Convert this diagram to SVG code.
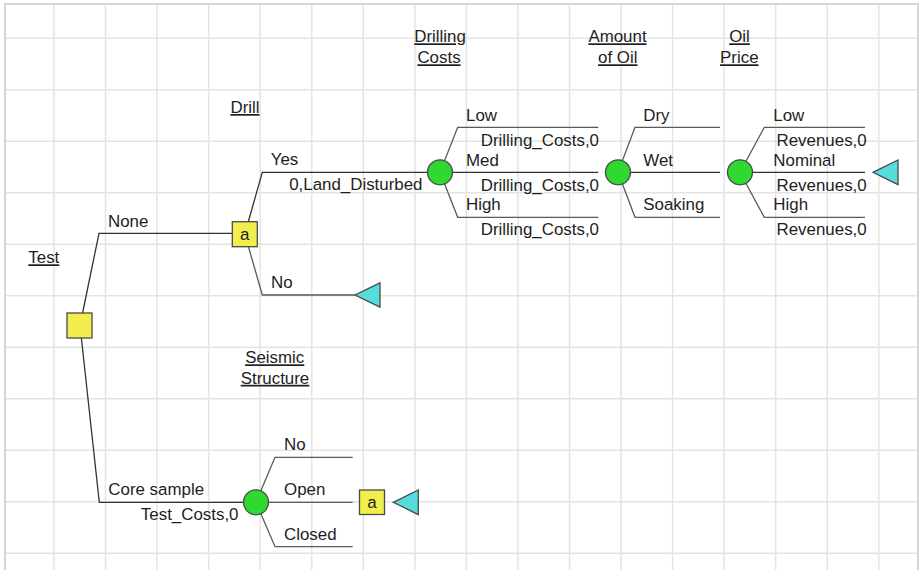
<svg xmlns="http://www.w3.org/2000/svg" width="919" height="570" viewBox="0 0 919 570">
  <style>
    .grid line { stroke: #e4e4e4; stroke-width: 1.5; }
    .frame { fill: none; stroke: #d6d6d6; stroke-width: 2; }
    .conn line, .conn polyline { fill: none; stroke: #333; stroke-width: 1.3; }
    .conn .leaf { stroke: #5a5a5a; }
    text { font-family: "Liberation Sans", Arial, sans-serif; font-size: 16.9px; fill: #1e1e1e; }
    .hdr { text-decoration: underline; text-anchor: middle; }
    .val { text-anchor: end; }
    .dec { fill: #f2ee4e; stroke: #4a4a4a; stroke-width: 1.3; }
    .chance { fill: #2fd92f; stroke: #4a4a4a; stroke-width: 1.3; }
    .end { fill: #55dcdc; stroke: #4a4a4a; stroke-width: 1.3; }
    .mark { text-anchor: middle; }
  </style>

  <rect width="919" height="570" fill="#ffffff"/>

  <!-- background grid -->
  <g class="grid">
    <line x1="54" y1="4" x2="54" y2="570"/>
    <line x1="105.5" y1="4" x2="105.5" y2="570"/>
    <line x1="157" y1="4" x2="157" y2="570"/>
    <line x1="208.7" y1="4" x2="208.7" y2="570"/>
    <line x1="260.2" y1="4" x2="260.2" y2="570"/>
    <line x1="311.8" y1="4" x2="311.8" y2="570"/>
    <line x1="363.3" y1="4" x2="363.3" y2="570"/>
    <line x1="414.9" y1="4" x2="414.9" y2="570"/>
    <line x1="466.4" y1="4" x2="466.4" y2="570"/>
    <line x1="518" y1="4" x2="518" y2="570"/>
    <line x1="569.5" y1="4" x2="569.5" y2="570"/>
    <line x1="621.1" y1="4" x2="621.1" y2="570"/>
    <line x1="672.6" y1="4" x2="672.6" y2="570"/>
    <line x1="724.2" y1="4" x2="724.2" y2="570"/>
    <line x1="775.7" y1="4" x2="775.7" y2="570"/>
    <line x1="827.3" y1="4" x2="827.3" y2="570"/>
    <line x1="878.8" y1="4" x2="878.8" y2="570"/>
    <line x1="5" y1="38.3" x2="918" y2="38.3"/>
    <line x1="5" y1="89.8" x2="918" y2="89.8"/>
    <line x1="5" y1="141.3" x2="918" y2="141.3"/>
    <line x1="5" y1="192.8" x2="918" y2="192.8"/>
    <line x1="5" y1="244.3" x2="918" y2="244.3"/>
    <line x1="5" y1="295.8" x2="918" y2="295.8"/>
    <line x1="5" y1="347.3" x2="918" y2="347.3"/>
    <line x1="5" y1="398.8" x2="918" y2="398.8"/>
    <line x1="5" y1="450.3" x2="918" y2="450.3"/>
    <line x1="5" y1="501.8" x2="918" y2="501.8"/>
    <line x1="5" y1="553.3" x2="918" y2="553.3"/>
  </g>
  <rect class="frame" x="5" y="4" width="913" height="580"/>

  <!-- branches -->
  <g id="connectors" class="conn">
    <!-- Test -->
    <polyline points="80,325.5 99,233.3 232.5,233.3"/>
    <polyline points="80,325.5 99.3,502.3 243.5,502.3"/>
    <!-- Drill -->
    <polyline points="244.8,234 262.3,172.3 427.5,172.3"/>
    <polyline class="leaf" points="244.8,234 262.3,295 355,295"/>
    <!-- Drilling Costs -->
    <polyline class="leaf" points="440,172.3 457.7,127.3 598.3,127.3"/>
    <line x1="440" y1="172.3" x2="598.3" y2="172.3"/>
    <polyline class="leaf" points="440,172.3 457.7,217.3 598.3,217.3"/>
    <!-- Amount of Oil -->
    <polyline class="leaf" points="618,172.3 635,127.3 720,127.3"/>
    <line x1="618" y1="172.3" x2="720" y2="172.3"/>
    <polyline class="leaf" points="618,172.3 635,217.3 720,217.3"/>
    <!-- Oil Price -->
    <polyline class="leaf" points="740,172.3 764.3,127.3 865,127.3"/>
    <line x1="740" y1="172.3" x2="865" y2="172.3"/>
    <polyline class="leaf" points="740,172.3 764.3,217.3 865,217.3"/>
    <!-- Seismic Structure -->
    <polyline class="leaf" points="256,502.3 275,457.3 352.7,457.3"/>
    <line class="leaf" x1="256" y1="502.3" x2="352.7" y2="502.3"/>
    <polyline class="leaf" points="256,502.3 275,546.7 352.7,546.7"/>

    <!-- branch names and values -->
    <text x="108" y="226.5">None</text>
    <text x="108.3" y="495">Core sample</text>
    <text class="val" x="238.5" y="520.3">Test_Costs,0</text>

    <text x="270.7" y="165.3">Yes</text>
    <text class="val" x="422.5" y="190.3">0,Land_Disturbed</text>
    <text x="271" y="288">No</text>

    <text x="466" y="120.5">Low</text>
    <text class="val" x="599" y="146">Drilling_Costs,0</text>
    <text x="466" y="165.8">Med</text>
    <text class="val" x="599" y="190.5">Drilling_Costs,0</text>
    <text x="466" y="210.3">High</text>
    <text class="val" x="599" y="235">Drilling_Costs,0</text>

    <text x="643.3" y="120.5">Dry</text>
    <text x="643.3" y="165.8">Wet</text>
    <text x="643.3" y="210.3">Soaking</text>

    <text x="773.3" y="120.5">Low</text>
    <text class="val" x="866.7" y="146">Revenues,0</text>
    <text x="773.3" y="165.8">Nominal</text>
    <text class="val" x="866.7" y="190.5">Revenues,0</text>
    <text x="773.3" y="210.3">High</text>
    <text class="val" x="866.7" y="235">Revenues,0</text>

    <text x="284" y="450">No</text>
    <text x="284" y="495">Open</text>
    <text x="284" y="540">Closed</text>
  </g>

  <!-- Test decision -->
  <g id="node-test">
    <text x="28.3" y="263.3" style="text-decoration: underline">Test</text>
    <rect class="dec" x="67" y="313" width="25" height="25"/>
  </g>

  <!-- Drill decision -->
  <g id="node-drill">
    <text class="hdr" x="245" y="113">Drill</text>
    <rect class="dec" x="232.3" y="221.7" width="25" height="25"/>
    <text class="mark" x="244.8" y="240">a</text>
  </g>

  <!-- Drilling Costs chance -->
  <g id="node-drilling-costs">
    <text class="hdr" x="440" y="42.3">Drilling</text>
    <text class="hdr" x="439" y="63.3">Costs</text>
    <circle class="chance" cx="440" cy="172.3" r="12.5"/>
  </g>

  <!-- Amount of Oil chance -->
  <g id="node-amount-of-oil">
    <text class="hdr" x="617.5" y="42.3">Amount</text>
    <text class="hdr" x="617.8" y="63.3">of Oil</text>
    <circle class="chance" cx="618" cy="172.3" r="12.5"/>
  </g>

  <!-- Oil Price chance -->
  <g id="node-oil-price">
    <text class="hdr" x="739.5" y="42.3">Oil</text>
    <text class="hdr" x="739.3" y="63.3">Price</text>
    <circle class="chance" cx="740" cy="172.3" r="12.5"/>
  </g>

  <!-- Seismic Structure chance -->
  <g id="node-seismic-structure">
    <text class="hdr" x="274.7" y="363.3">Seismic</text>
    <text class="hdr" x="275" y="383.8">Structure</text>
    <circle class="chance" cx="256" cy="502.3" r="12.5"/>
  </g>

  <!-- reference to the Drill decision -->
  <g id="node-drill-ref">
    <rect class="dec" x="359.5" y="490" width="25" height="24.5"/>
    <text class="mark" x="372" y="508">a</text>
  </g>

  <!-- terminal nodes -->
  <g id="end-drill-no">
    <polygon class="end" points="355,295 380,282.8 380,307.2"/>
  </g>
  <g id="end-oil-price">
    <polygon class="end" points="873,172.3 898,160 898,184.6"/>
  </g>
  <g id="end-seismic">
    <polygon class="end" points="393.3,502.3 418.3,490 418.3,514.6"/>
  </g>
</svg>
